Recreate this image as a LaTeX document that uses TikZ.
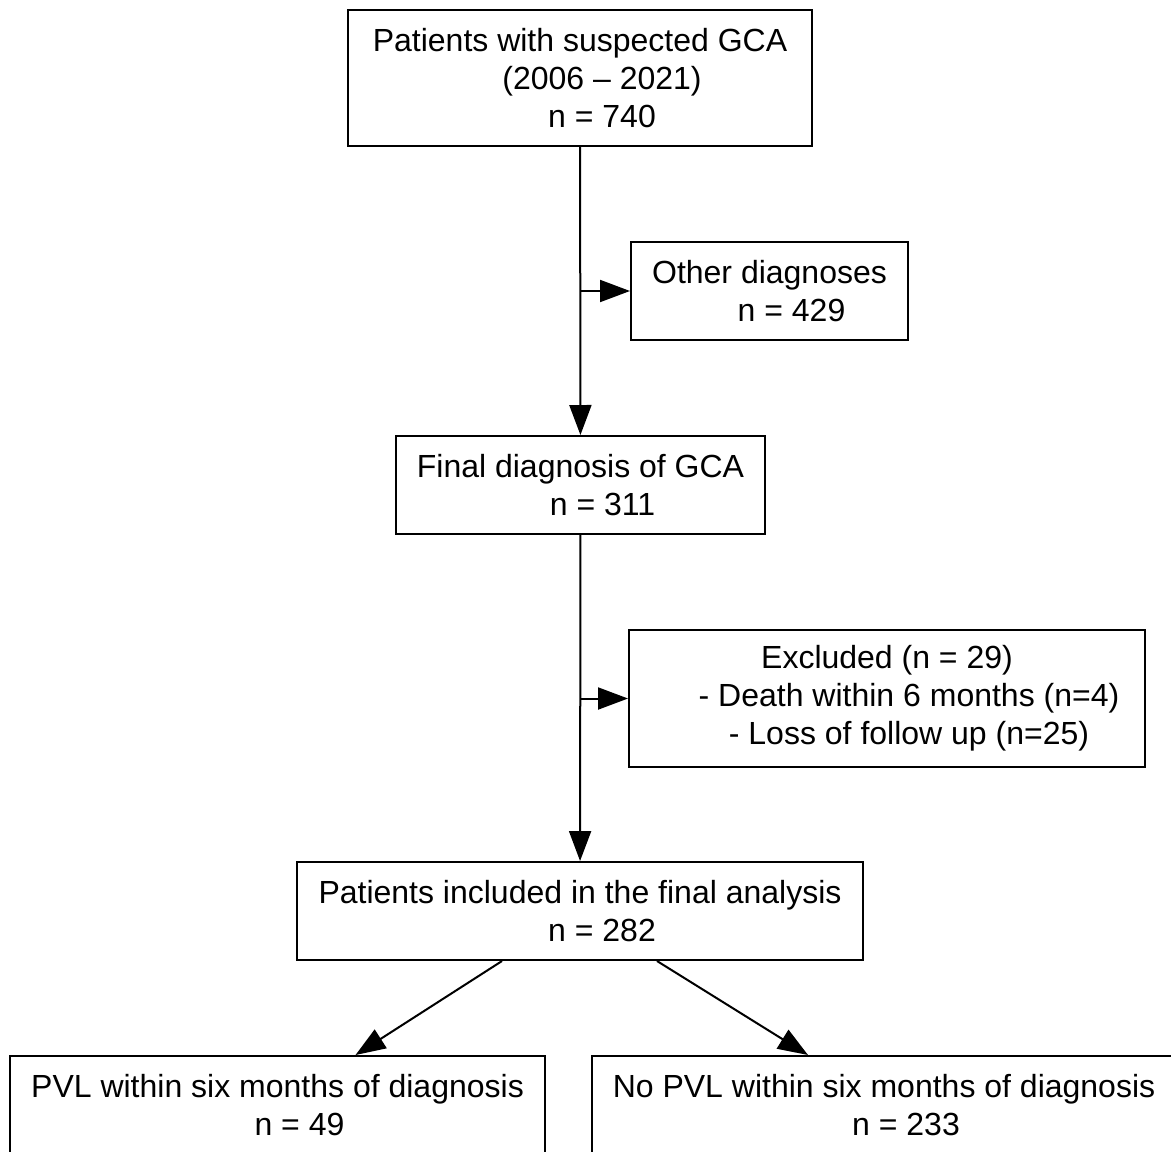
\documentclass[tikz,border=0pt]{standalone}
\usepackage{fontspec}
\setmainfont{Liberation Sans}
\usetikzlibrary{arrows.meta}

\newcommand{\ind}{\hspace*{22pt}}

\begin{document}
\begin{tikzpicture}[x=0.5pt,y=-0.5pt,
  box/.style={draw=black,line width=1pt,rectangle,align=center,inner sep=2pt,
    font=\fontsize{16}{19}\selectfont},
  arr/.style={line width=1pt,-{Triangle[length=15pt,width=11pt]}}]
\clip (0,0) rectangle (1171,1151);

\node[box,minimum width=232pt,minimum height=68pt] (susp) at (580,78)
  {Patients with suspected GCA\\\ind(2006 -- 2021)\\\ind n = 740};
\node[box,minimum width=138.5pt,minimum height=49pt] (other) at (769.5,291)
  {Other diagnoses\\\ind n = 429};
\node[box,minimum width=184.5pt,minimum height=49pt] (final) at (580.5,485)
  {Final diagnosis of GCA\\\ind n = 311};
\node[box,minimum width=258pt,minimum height=68.5pt] (excl) at (887,698.5)
  {Excluded (n = 29)\\\ind - Death within 6 months (n=4)\\\ind - Loss of follow up (n=25)};
\node[box,minimum width=283pt,minimum height=49pt] (incl) at (580,911)
  {Patients included in the final analysis\\\ind n = 282};
\node[box,minimum width=267.5pt,minimum height=68pt,anchor=north] (pvl) at (277.5,1055)
  {PVL within six months of diagnosis\\\ind n = 49\\\mbox{}};
\node[box,minimum width=292pt,minimum height=68pt,anchor=north] (nopvl) at (884,1055)
  {No PVL within six months of diagnosis\\\ind n = 233\\\mbox{}};

% side branches
\coordinate (j1) at (580,291);
\coordinate (j2) at (580,698.5);

\draw[arr] (susp) -- (final);
\draw[arr] (j1) -- (other.west);
\draw[arr] (final) -- (incl);
\draw[arr] (j2) -- (excl.west);
\draw[arr] ([xshift=-39pt]incl.south) -- ([xshift=39pt]pvl.north);
\draw[arr] ([xshift=38.5pt]incl.south) -- ([xshift=-38pt]nopvl.north);
\end{tikzpicture}
\end{document}
